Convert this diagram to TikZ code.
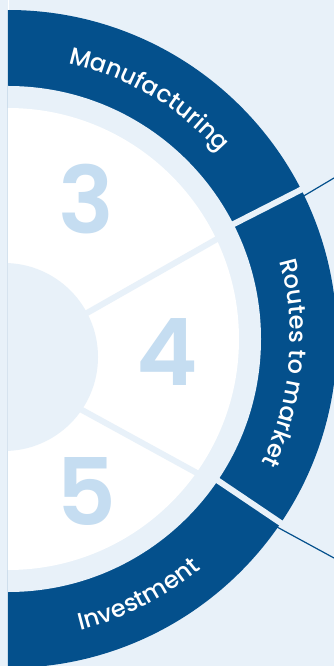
\documentclass[tikz,border=0pt]{standalone}
\usepackage{fontspec}
\setmainfont{Poppins}
\IfFontExistsTF{Poppins Medium}
  {\newfontfamily\ringfamily{Poppins Medium}}
  {\newfontfamily\ringfamily{Poppins}}
\IfFontExistsTF{Poppins SemiBold}
  {\newfontfamily\digitfamily{Poppins SemiBold}}
  {\newfontfamily\digitfamily{Poppins}[FakeBold=1.5]}
\usepackage{tikz}
\usetikzlibrary{decorations.text, calc}

\definecolor{ringblue}{RGB}{4,80,140}
\definecolor{paleblue}{RGB}{232,241,249}
\definecolor{digitblue}{RGB}{197,221,241}

\newcommand{\ringfont}{\ringfamily\fontsize{24}{24}\selectfont\color{white}}

\begin{document}
\begin{tikzpicture}[
  x=1pt, y=1pt,
  ringlabel/.style={decorate, decoration={text along path, text align=center}},
  digitlabel/.style={inner sep=0pt, text=digitblue,
                     font=\digitfamily\fontsize{93}{93}\selectfont},
  gapline/.style={paleblue, line width=6pt},
  spokeline/.style={paleblue, line width=6pt},
  leaderline/.style={ringblue, line width=1.2pt}
]

\def\Rout{329}
\def\Rring{253}
\def\Rwhite{231}

\fill[paleblue] (-8,-327) rectangle (326,339);
\useasboundingbox (-8,-327) rectangle (326,339);

\begin{scope}
  \clip (0,-327) rectangle (326,339);
  \fill[ringblue] (0,0) circle[radius=\Rout];
  \fill[paleblue] (0,0) circle[radius=\Rring];
  \fill[white] (0,0) circle[radius=\Rwhite];

  \draw[spokeline] (61.6,16.1) -- (215,103.4);
  \draw[spokeline] (56.5,-61.4) -- (200.2,-140.2);
  \fill[paleblue] (-4,-18) circle[radius=94];

  \draw[gapline] (27:245) -- (27:333);
  \draw[gapline] (-34:245) -- (-34:333);
\end{scope}

\draw[white, line width=1pt] (0.5,329) -- (0.5,339);

\coordinate (upStart) at (294,142);
\coordinate (upEnd) at (326,161);
\coordinate (lowStart) at (269,-188);
\coordinate (lowEnd) at (326,-219);
\draw[leaderline] (upStart) -- (upEnd);
\draw[leaderline] (lowStart) -- (lowEnd);

\node[digitlabel] (three) at (78,140) {3};
\node[digitlabel] (four) at (159,-13) {4};
\node[digitlabel] (five) at (78,-153) {5};

\path[ringlabel, decoration={text={|\ringfont|Manufacturing}}]
  (101.5:282) arc[start angle=101.5, end angle=17.5, radius=282];
\path[ringlabel, decoration={text={|\ringfont|Routes to market}}]
  (38:282) arc[start angle=38, end angle=-48, radius=282];
\path[ringlabel, decoration={text={|\ringfont|Investment}}]
  (-105:300) arc[start angle=-105, end angle=-21, radius=300];

\end{tikzpicture}
\end{document}
